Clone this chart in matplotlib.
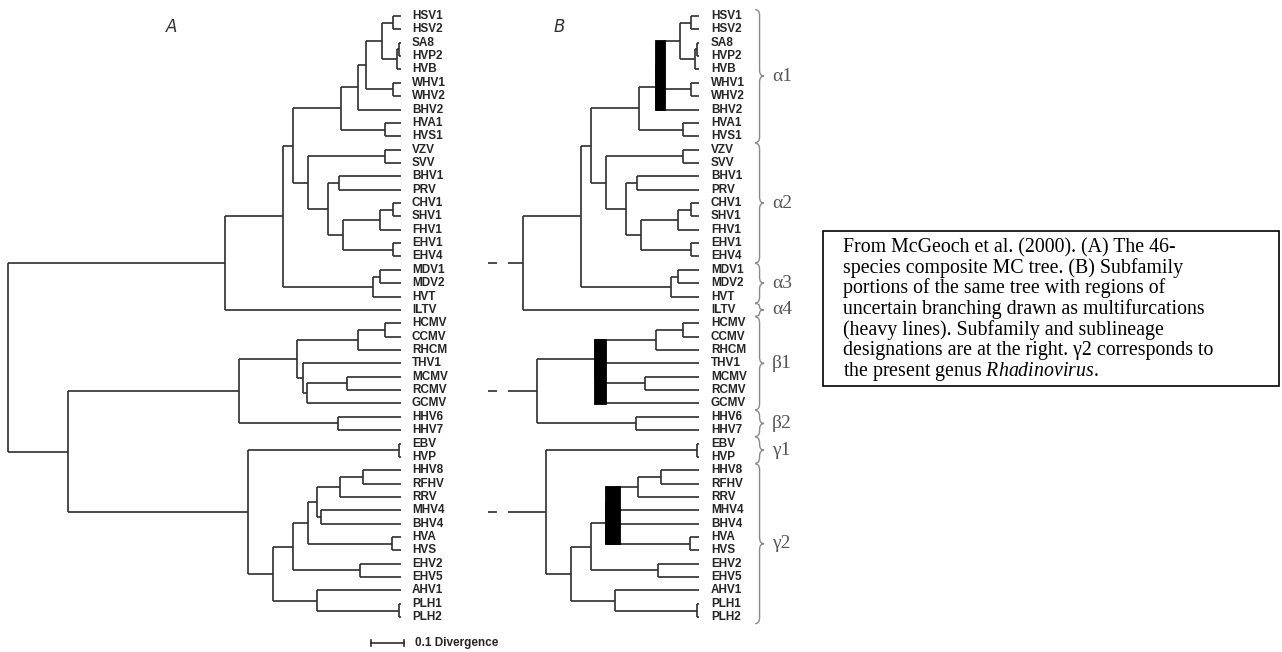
import matplotlib

matplotlib.use("Agg")
from matplotlib import pyplot as plt
from matplotlib.axes import Axes
from matplotlib.collections import LineCollection
from matplotlib.patches import PathPatch, Rectangle
from matplotlib.path import Path

plt.rcParams["mathtext.fontset"] = "custom"
plt.rcParams["mathtext.rm"] = "Liberation Serif"
plt.rcParams["mathtext.it"] = "Liberation Serif:italic"

# taxa, top to bottom
TAXA = [
    "HSV1", "HSV2", "SA8", "HVP2", "HVB", "WHV1", "WHV2", "BHV2", "HVA1", "HVS1",
    "VZV", "SVV", "BHV1", "PRV", "CHV1", "SHV1", "FHV1", "EHV1", "EHV4",
    "MDV1", "MDV2", "HVT", "ILTV",
    "HCMV", "CCMV", "RHCM", "THV1", "MCMV", "RCMV", "GCMV", "HHV6", "HHV7",
    "EBV", "HVP", "HHV8", "RFHV", "RRV", "MHV4", "BHV4", "HVA", "HVS",
    "EHV2", "EHV5", "AHV1", "PLH1", "PLH2",
]

# internal node = (divergence from root, child, child, ...)
ALPHA1 = (1.009,
          (1.061,
           (1.085,
            (1.133, (1.167, "HSV1", "HSV2"), (1.179, (1.185, "SA8", "HVP2"), "HVB")),
            (1.167, "WHV1", "WHV2")),
           "BHV2"),
          (1.142, "HVA1", "HVS1"))
ALPHA2 = (0.909,
          (1.142, "VZV", "SVV"),
          (0.970,
           (1.003, "BHV1", "PRV"),
           (1.015,
            (1.127, (1.167, "CHV1", "SHV1"), "FHV1"),
            (1.167, "EHV1", "EHV4"))))
ALPHA = (0.658,
         (0.833, (0.864, ALPHA1, ALPHA2), (1.106, (1.127, "MDV1", "MDV2"), "HVT")),
         "ILTV")
BETA = (0.700,
        (0.876,
         (1.061, (1.142, "HCMV", "CCMV"), "RHCM"),
         (0.894, "THV1", (0.906, (1.027, "MCMV", "RCMV"), "GCMV"))),
        (1.000, "HHV6", "HHV7"))
GAMMA = (0.727,
         (1.185, "EBV", "HVP"),
         (0.803,
          (0.864,
           (0.909,
            (0.936, (1.006, (1.076, "HHV8", "RFHV"), "RRV"), (0.948, "MHV4", "BHV4")),
            (1.164, "HVA", "HVS")),
           (1.067, "EHV2", "EHV5")),
          (0.936, "AHV1", (1.185, "PLH1", "PLH2"))))
TREE = (0.0, ALPHA, (0.182, BETA, GAMMA))
SUBFAMILIES = [ALPHA, BETA, GAMMA]
TIP = 1.191

# regions drawn as multifurcations in B: first taxon, last taxon, deepest collapsed node
MULTIFURCATIONS = [("HSV1", "BHV2", 1.085), ("HCMV", "GCMV", 0.906), ("HHV8", "HVS", 0.948)]

SUBLINEAGES = [
    ("α1", "HSV1", "HVS1"), ("α2", "VZV", "EHV4"), ("α3", "MDV1", "HVT"),
    ("α4", "ILTV", "ILTV"), ("β1", "HCMV", "GCMV"), ("β2", "HHV6", "HHV7"),
    ("γ1", "EBV", "HVP"), ("γ2", "HHV8", "PLH2"),
]

SCALE_BAR = 0.1
CAPTION = [
    "From McGeoch et al. (2000). (A) The 46-",
    "species composite MC tree. (B) Subfamily",
    "portions of the same tree with regions of",
    "uncertain branching drawn as multifurcations",
    "(heavy lines). Subfamily and sublineage",
    "designations are at the right. γ2 corresponds to",
    "the present genus $\\mathit{Rhadinovirus}$.",
]

ROW = {name: i for i, name in enumerate(TAXA)}
B_SHIFT = 0.903
LINE = "#2e2e2e"


def ypos(node):
    if isinstance(node, str):
        return ROW[node]
    ys = [ypos(k) for k in node[1:]]
    return (min(ys) + max(ys)) / 2


def xpos(node):
    return TIP if isinstance(node, str) else node[0]


def leaves(node):
    if isinstance(node, str):
        return [node]
    return [name for k in node[1:] for name in leaves(k)]


def branches(node, dx, segs):
    if isinstance(node, str):
        return
    ys = []
    for k in node[1:]:
        ky = ypos(k)
        segs.append([(node[0] + dx, ky), (xpos(k) + dx, ky)])
        ys.append(ky)
        branches(k, dx, segs)
    segs.append([(node[0] + dx, min(ys)), (node[0] + dx, max(ys))])


def find(node, names):
    if isinstance(node, str):
        return None
    if leaves(node) == names:
        return node
    for k in node[1:]:
        hit = find(k, names)
        if hit is not None:
            return hit
    return None


def fan(node, limit):
    out = []
    for k in node[1:]:
        if not isinstance(k, str) and k[0] <= limit:
            out += fan(k, limit)
        else:
            out.append(ypos(k))
    return out


def brace(ax, x0, y0, y1, w, r):
    xm, xt, ym = x0 + w / 2, x0 + w, (y0 + y1) / 2
    verts = [(x0, y0), (xm, y0), (xm, y0 + r), (xm, ym - r), (xm, ym), (xt, ym),
             (xm, ym), (xm, ym + r), (xm, y1 - r), (xm, y1), (x0, y1)]
    codes = [Path.MOVETO, Path.CURVE3, Path.CURVE3, Path.LINETO, Path.CURVE3, Path.CURVE3,
             Path.CURVE3, Path.CURVE3, Path.LINETO, Path.CURVE3, Path.CURVE3]
    ax.add_patch(PathPatch(Path(verts, codes), fill=False, ec="#8a8a8a", lw=1.0))


def main():
    fig = plt.figure(figsize=(12.82, 6.52), dpi=100)
    ax: Axes = fig.add_axes([0, 0, 1, 1])
    # 330 px per divergence unit, 13.36 px per taxon row
    ax.set_xlim(-8 / 330, 1274 / 330)
    ax.set_ylim(636 / 13.36, -16 / 13.36)
    ax.axis("off")

    # panel A: whole tree
    segs = []
    branches(TREE, 0.0, segs)
    # panel B: subfamilies only, with dashed stems
    for sub in SUBFAMILIES:
        branches(sub, B_SHIFT, segs)
        y = ypos(sub)
        segs.append([(0.552 + B_SHIFT, y), (0.580 + B_SHIFT, y)])
        segs.append([(0.612 + B_SHIFT, y), (sub[0] + B_SHIFT, y)])
    ax.add_collection(LineCollection(segs, colors=LINE, linewidths=1.2, capstyle="butt", zorder=2))

    # heavy lines = multifurcations
    for first, last, limit in MULTIFURCATIONS:
        node = find(TREE, TAXA[ROW[first]:ROW[last] + 1])
        ys = fan(node, limit)
        ax.add_patch(Rectangle((node[0] + B_SHIFT - 0.002, min(ys) - 0.05),
                               limit - node[0] + 0.006, max(ys) - min(ys) + 0.1,
                               fc="black", ec="black", lw=0.6, zorder=3))

    for name, i in ROW.items():
        for dx in (0.033, B_SHIFT + 0.036):
            ax.text(TIP + dx, i, name, fontsize=8.5, fontweight="bold", color="#262626",
                    family="Liberation Sans", ha="left", va="center")

    ax.text(0.497, 0.82, "A", fontsize=12, style="italic", color="#333333", ha="center", va="center")
    ax.text(0.497 + B_SHIFT + 0.27, 0.82, "B", fontsize=12, style="italic", color="#333333",
            ha="center", va="center")

    for label, first, last in SUBLINEAGES:
        y0, y1 = ROW[first] - 0.48, ROW[last] + 0.48
        brace(ax, 2.264, y0, y1, 0.027, min(0.45, (y1 - y0) / 4))
        ax.text(2.315, (y0 + y1) / 2, label, fontsize=14, family="Liberation Serif",
                color="#555555", ha="left", va="center")

    # scale bar
    yb = 46.93
    x0 = 1.100
    ax.plot([x0, x0 + SCALE_BAR], [yb, yb], color=LINE, lw=1.2)
    ax.plot([x0, x0], [yb - 0.2, yb + 0.2], color=LINE, lw=1.2)
    ax.plot([x0 + SCALE_BAR, x0 + SCALE_BAR], [yb - 0.2, yb + 0.2], color=LINE, lw=1.2)
    ax.text(x0 + SCALE_BAR + 0.033, yb, f"{SCALE_BAR:g} Divergence", fontsize=8.5,
            fontweight="bold", color="#262626", family="Liberation Sans", ha="left", va="center")

    # caption box
    fig.add_artist(Rectangle((823 / 1282, 1 - 386 / 652), 456 / 1282, 155 / 652,
                             transform=fig.transFigure, fill=False, ec="black", lw=1.2))
    for i, line in enumerate(CAPTION):
        fig.text(843 / 1282, 1 - (252 + 20.67 * i) / 652, line, fontsize=14.3,
                 family="Liberation Serif", color="black", ha="left", va="baseline")

    fig.savefig("out.png", dpi=100)


if __name__ == "__main__":
    main()
